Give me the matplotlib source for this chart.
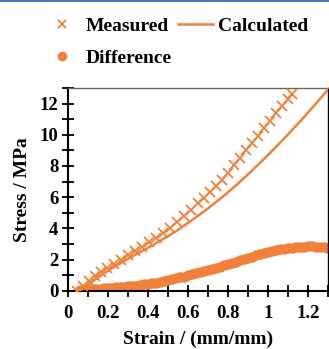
import matplotlib
matplotlib.use("Agg")
import matplotlib.pyplot as plt
from matplotlib.ticker import MultipleLocator
from matplotlib.lines import Line2D

# Measured data (strain, stress MPa)
meas_strain = [0.045, 0.075, 0.105, 0.135, 0.165, 0.195, 0.23, 0.265, 0.30, 0.335,
               0.37, 0.405, 0.44, 0.475, 0.51, 0.545, 0.58, 0.615, 0.65, 0.68,
               0.71, 0.74, 0.77, 0.80, 0.83, 0.86, 0.89, 0.92, 0.95, 0.98,
               1.01, 1.04, 1.07, 1.10, 1.12]
meas_stress = [0.00, 0.30, 0.62, 0.92, 1.20, 1.46, 1.72, 2.00, 2.28, 2.55,
               2.83, 3.10, 3.38, 3.70, 4.05, 4.42, 4.80, 5.20, 5.60, 5.95,
               6.32, 6.71, 7.12, 7.57, 8.05, 8.52, 9.00, 9.47, 9.95, 10.42,
               10.90, 11.37, 11.85, 12.30, 12.62]

# Calculated curve
calc_strain = [0.06, 0.10, 0.15, 0.20, 0.25, 0.30, 0.35, 0.40, 0.45, 0.50,
               0.55, 0.60, 0.65, 0.70, 0.75, 0.80, 0.85, 0.90, 0.95, 1.00,
               1.05, 1.10, 1.15, 1.20, 1.25, 1.30]
calc_stress = [0.00, 0.38, 0.85, 1.28, 1.68, 2.05, 2.40, 2.75, 3.12, 3.50,
               3.90, 4.35, 4.80, 5.28, 5.78, 6.31, 6.87, 7.46, 8.07, 8.70,
               9.35, 10.02, 10.71, 11.42, 12.15, 12.90]

# Difference
diff_strain = [0.06, 0.08, 0.10, 0.12, 0.14, 0.16, 0.18, 0.20, 0.22, 0.24,
               0.26, 0.28, 0.30, 0.32, 0.34, 0.36, 0.38, 0.40, 0.42, 0.44,
               0.46, 0.48, 0.50, 0.52, 0.54, 0.56, 0.58, 0.60, 0.62, 0.64,
               0.66, 0.68, 0.70, 0.72, 0.74, 0.76, 0.78, 0.80, 0.82, 0.84,
               0.86, 0.88, 0.90, 0.92, 0.94, 0.96, 0.98, 1.00, 1.02, 1.04,
               1.06, 1.08, 1.10, 1.12, 1.14, 1.16, 1.18, 1.20, 1.22, 1.24,
               1.26, 1.28, 1.30]
diff_stress = [0.05, 0.07, 0.08, 0.10, 0.11, 0.13, 0.15, 0.17, 0.19, 0.21,
               0.23, 0.25, 0.28, 0.31, 0.33, 0.36, 0.40, 0.44, 0.48, 0.52,
               0.57, 0.62, 0.68, 0.73, 0.79, 0.85, 0.91, 0.98, 1.04, 1.11,
               1.18, 1.25, 1.32, 1.39, 1.47, 1.54, 1.62, 1.70, 1.78, 1.86,
               1.94, 2.02, 2.10, 2.18, 2.26, 2.33, 2.41, 2.48, 2.54, 2.60,
               2.65, 2.69, 2.73, 2.76, 2.79, 2.81, 2.83, 2.84, 2.84, 2.83,
               2.81, 2.78, 2.75]

x_ticks = [0, 0.2, 0.4, 0.6, 0.8, 1, 1.2]
x_ticklabels = ["0", "0.2", "0.4", "0.6", "0.8", "1", "1.2"]
y_ticks = [0, 2, 4, 6, 8, 10, 12]

orange = "#F0803A"
plt.rcParams['font.family'] = ['Liberation Serif', 'DejaVu Serif']
plt.rcParams['font.weight'] = 'bold'

fig = plt.figure(figsize=(3.29, 3.49), dpi=100)
ax = fig.add_axes([0.2067, 0.167, 0.7903, 0.581])

ax.plot(diff_strain, diff_stress, linestyle='none', marker='o', ms=6.5,
        color=orange, label='Difference', zorder=2)
ax.plot(calc_strain, calc_stress, '-', color=orange, lw=1.8,
        label='Calculated', zorder=3)
ax.plot(meas_strain, meas_stress, linestyle='none', marker='x', ms=7.5,
        mew=1.3, color=orange, label='Measured', zorder=4)

ax.set_xlim(0, 1.3)
ax.set_ylim(0, 13)
ax.set_xticks(x_ticks)
ax.set_xticklabels(x_ticklabels)
ax.set_yticks(y_ticks)
ax.xaxis.set_minor_locator(MultipleLocator(0.1))
ax.yaxis.set_minor_locator(MultipleLocator(1))
ax.tick_params(which='both', direction='inout', length=8, width=1.3,
               labelsize=13.5, colors='black')
ax.tick_params(axis='x', pad=6)
ax.tick_params(axis='y', pad=3)
for lab in ax.get_xticklabels() + ax.get_yticklabels():
    lab.set_fontweight('bold')

for side in ['left', 'bottom']:
    ax.spines[side].set_linewidth(1.5)
    ax.spines[side].set_color('black')
ax.spines['top'].set_color('#666666')
ax.spines['top'].set_linewidth(1.0)
ax.spines['right'].set_color('black')
ax.spines['right'].set_linewidth(1.0)

ax.set_xlabel('Strain / (mm/mm)', fontsize=14, fontweight='bold')
ax.xaxis.label.set_va('center')
ax.xaxis.set_label_coords(0.5, -0.24)
ax.set_ylabel('Stress / MPa', fontsize=14, fontweight='bold', labelpad=6)

handles = [
    Line2D([], [], linestyle='none', marker='x', ms=6, mew=1.3, color=orange),
    Line2D([], [], linestyle='none', marker='o', ms=6, color=orange),
    Line2D([], [], linestyle='-', lw=1.8, color=orange),
]
labels = ['Measured', 'Difference', 'Calculated']
fig.legend(handles, labels, ncol=2, loc='upper left',
           bbox_to_anchor=(0.095, 0.99), frameon=False,
           prop={'family': 'Liberation Serif', 'weight': 'bold', 'size': 14},
           handlelength=1.8, handletextpad=0.3, columnspacing=0.3,
           labelspacing=0.75, borderpad=0.2)

fig.add_artist(Line2D([0, 1], [0.9985, 0.9985], transform=fig.transFigure,
                      color='#2a5ea6', lw=1.2))

fig.savefig('out.png', dpi=100)
